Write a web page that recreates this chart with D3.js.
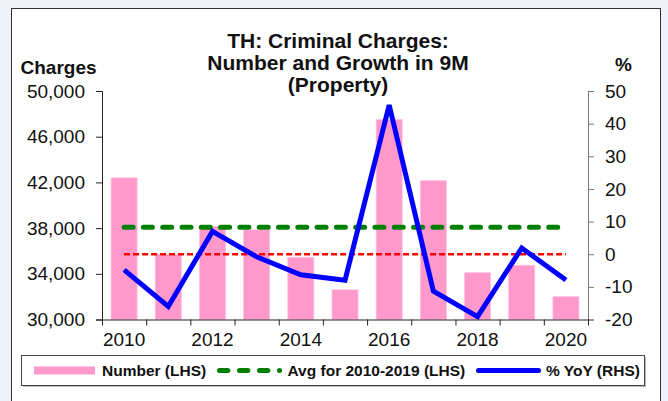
<!DOCTYPE html>
<html>
<head>
<meta charset="utf-8">
<script src="https://cdn.jsdelivr.net/npm/d3@7"></script>
<style>
  html, body { margin: 0; padding: 0; background: #f1f1f8; }
  svg { display: block; font-family: "Liberation Sans", Arial, sans-serif; }
</style>
</head>
<body>
<svg id="chart" width="668" height="401"></svg>
<script>
const years = [2010, 2011, 2012, 2013, 2014, 2015, 2016, 2017, 2018, 2019, 2020];
const charges = [42400, 35700, 38150, 37850, 35450, 32600, 47500, 42150, 34100, 34750, 32000];
const yoyPct = [-4.8, -16.0, 7.0, -0.8, -6.3, -8.0, 45.7, -11.3, -19.1, 1.9, -7.9];
const avg2010to2019 = 38070;
const leftTicks = [30000, 34000, 38000, 42000, 46000, 50000];
const rightTicks = [-20, -10, 0, 10, 20, 30, 40, 50];
const yearLabels = [2010, 2012, 2014, 2016, 2018, 2020];
const titleLines = ["TH: Criminal Charges:", "Number and Growth in 9M", "(Property)"];

const svg = d3.select("#chart");
const plot = { left: 102, right: 588, top: 91, bottom: 319.5 };

// page background + chart frame
svg.append("rect").attr("width", 668).attr("height", 401).attr("fill", "#f1f1f8");
svg.append("rect")
  .attr("x", 11.5).attr("y", 8.5).attr("width", 649).attr("height", 420)
  .attr("fill", "#fff").attr("stroke", "#333").attr("stroke-width", 1);

const x = d3.scaleBand().domain(years).range([plot.left, plot.right])
  .paddingInner(0.41).paddingOuter(0.205);
const xIndex = d3.scaleLinear().domain([0, years.length]).range([plot.left, plot.right]);
const yLeft = d3.scaleLinear().domain([30000, 50000]).range([plot.bottom, plot.top]);
const yRight = d3.scaleLinear().domain([-20, 50]).range([plot.bottom, plot.top]);
const cx = (d) => x(d) + x.bandwidth() / 2;

// bars
svg.append("g").selectAll("rect").data(years).enter().append("rect")
  .attr("x", (d) => x(d))
  .attr("width", x.bandwidth())
  .attr("y", (d, i) => yLeft(charges[i]))
  .attr("height", (d, i) => plot.bottom - yLeft(charges[i]))
  .attr("fill", "#ff99cc")
  .attr("stroke", "#ffc2e0")
  .attr("stroke-width", 0.8);

// zero line (RHS) and average line (LHS)
const first = years[0], last = years[years.length - 1];
svg.append("line")
  .attr("x1", cx(first)).attr("x2", cx(last))
  .attr("y1", yRight(0)).attr("y2", yRight(0))
  .attr("stroke", "#ff0000").attr("stroke-width", 2.4)
  .attr("stroke-dasharray", "6,3");
svg.append("line")
  .attr("x1", cx(first)).attr("x2", cx(last))
  .attr("y1", yLeft(avg2010to2019)).attr("y2", yLeft(avg2010to2019))
  .attr("stroke", "#008000").attr("stroke-width", 5)
  .attr("stroke-linecap", "round")
  .attr("stroke-dasharray", "9,10.3");

// yoy line
const line = d3.line().x((d) => cx(d)).y((d, i) => yRight(yoyPct[i]));
svg.append("path").datum(years)
  .attr("d", line)
  .attr("fill", "none")
  .attr("stroke", "#0000ff")
  .attr("stroke-width", 5)
  .attr("stroke-linejoin", "miter");

// axes
const styleAxis = (g, color) => {
  g.selectAll("path, line").attr("stroke", color);
  g.selectAll("text").attr("fill", "#111").attr("font-size", 19)
    .attr("font-family", "Liberation Sans, Arial, sans-serif");
};
svg.append("g")
  .attr("transform", `translate(${plot.left},0)`)
  .call(d3.axisLeft(yLeft).tickValues(leftTicks).tickFormat(d3.format(",")).tickSize(6).tickPadding(11))
  .call((g) => styleAxis(g, "#222"));
svg.append("g")
  .attr("transform", `translate(${plot.right},0)`)
  .call(d3.axisRight(yRight).tickValues(rightTicks).tickFormat((d) => String(d)).tickSize(6).tickPadding(11))
  .call((g) => styleAxis(g, "#777"));
svg.append("g")
  .attr("transform", `translate(0,${plot.bottom})`)
  .call(d3.axisBottom(xIndex).tickValues(d3.range(years.length + 1)).tickFormat("").tickSize(6).tickSizeOuter(0))
  .call((g) => styleAxis(g, "#222"));
svg.append("g")
  .attr("transform", `translate(0,${plot.bottom})`)
  .call(d3.axisBottom(x).tickValues(yearLabels).tickSize(0).tickPadding(13.5))
  .call((g) => g.select(".domain").remove())
  .call((g) => styleAxis(g, "#222"));

// titles
svg.append("text")
  .attr("x", 338).attr("y", 48)
  .attr("text-anchor", "middle")
  .attr("font-size", 21).attr("font-weight", "bold").attr("fill", "#111")
  .selectAll("tspan").data(titleLines).enter().append("tspan")
  .attr("x", 338)
  .attr("dy", (d, i) => (i === 0 ? 0 : 22.2))
  .text((d) => d);
svg.append("text").attr("x", 20.5).attr("y", 73.5)
  .attr("font-size", 19).attr("font-weight", "bold").attr("fill", "#111").text("Charges");
svg.append("text").attr("x", 615).attr("y", 71)
  .attr("font-size", 19).attr("font-weight", "bold").attr("fill", "#111").text("%");

// legend
const legend = svg.append("g");
legend.append("rect")
  .attr("x", 23).attr("y", 357).attr("width", 623).attr("height", 30)
  .attr("fill", "#bbb");
legend.append("rect")
  .attr("x", 21.5).attr("y", 355.5).attr("width", 623).attr("height", 30)
  .attr("fill", "#fff").attr("stroke", "#444").attr("stroke-width", 1);
const ly = 370.5;
legend.append("rect").attr("x", 34).attr("y", ly - 4).attr("width", 61).attr("height", 8).attr("fill", "#ff99cc");
legend.append("line").attr("x1", 219.5).attr("x2", 279.6).attr("y1", ly).attr("y2", ly)
  .attr("stroke", "#008000").attr("stroke-width", 5)
  .attr("stroke-linecap", "round").attr("stroke-dasharray", "8.3,11.7");
legend.append("line").attr("x1", 478.5).attr("x2", 538.5).attr("y1", ly).attr("y2", ly)
  .attr("stroke", "#0000ff").attr("stroke-width", 5).attr("stroke-linecap", "round");
const legendItems = [
  { label: "Number (LHS)", x: 102 },
  { label: "Avg for 2010-2019 (LHS)", x: 287.5 },
  { label: "% YoY (RHS)", x: 546 },
];
legend.selectAll("text.lbl").data(legendItems).enter().append("text")
  .attr("class", "lbl")
  .attr("x", (d) => d.x).attr("y", 376)
  .attr("font-size", 15.5).attr("font-weight", "bold").attr("fill", "#111")
  .text((d) => d.label);
</script>
</body>
</html>
